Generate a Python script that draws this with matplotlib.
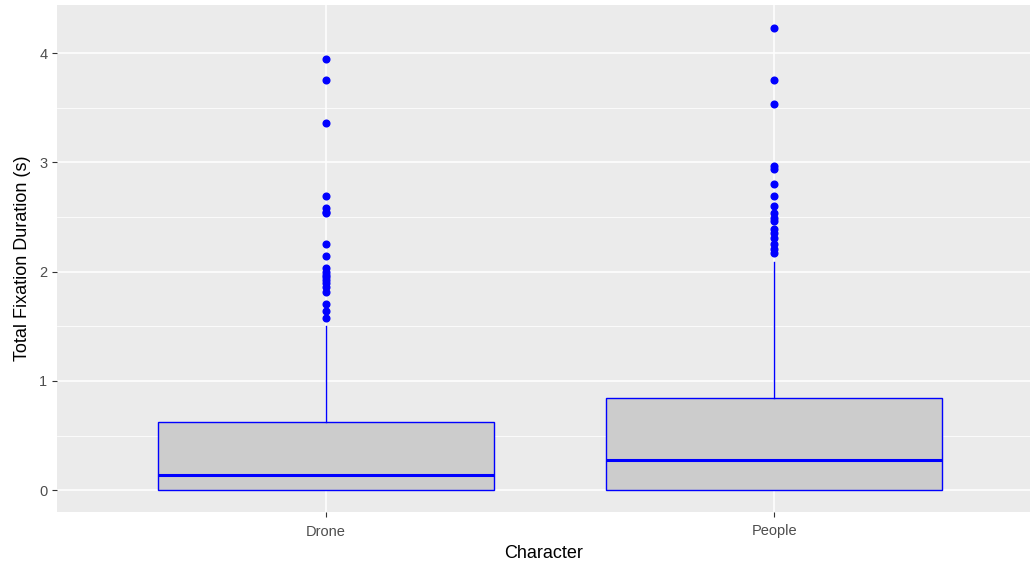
import matplotlib
matplotlib.use("Agg")
from matplotlib import pyplot as plt
from matplotlib.ticker import MultipleLocator

plt.rcParams['font.family'] = ['Liberation Sans', 'DejaVu Sans']

categories = ['Drone', 'People']

# box summaries (seconds)
q1 = [0.0, 0.0]
medians = [0.137, 0.275]
q3 = [0.62, 0.84]
whisker_lo = [0.0, 0.0]
whisker_hi = [1.50, 2.09]

drone_outliers = [3.945, 3.75, 3.36, 2.69, 2.58, 2.55, 2.54, 2.25, 2.14,
                  2.03, 2.0, 1.97, 1.95, 1.92, 1.90, 1.86, 1.81, 1.70, 1.64, 1.58]
people_outliers = [4.226, 3.75, 3.53, 2.97, 2.94, 2.80, 2.69, 2.60, 2.54,
                   2.49, 2.46, 2.39, 2.35, 2.31, 2.25, 2.21, 2.17]
outliers = [drone_outliers, people_outliers]

stats = []
for i, name in enumerate(categories):
	stats.append(dict(label=name, q1=q1[i], med=medians[i], q3=q3[i],
		whislo=whisker_lo[i], whishi=whisker_hi[i], fliers=outliers[i]))

fig = plt.figure(figsize=(10.30, 5.67), dpi=100)
ax = fig.add_axes([57/1030, 55/567, 1 - 57/1030, 507/567])
ax.set_facecolor('#EBEBEB')
for s in ax.spines.values():
	s.set_visible(False)

ax.bxp(stats, positions=[1, 2], widths=0.75, patch_artist=True, showcaps=False,
	boxprops=dict(facecolor='#CCCCCC', edgecolor='#0000FF', linewidth=1.0),
	medianprops=dict(color='#0000FF', linewidth=2.2),
	whiskerprops=dict(color='#0000FF', linewidth=1.0),
	flierprops=dict(marker='o', markerfacecolor='#0000FF', markeredgecolor='#0000FF',
		markersize=4.8, linestyle='none'),
	zorder=3)

ax.set_xlim(0.4, 2.571)
ax.set_ylim(-0.20, 4.44)
ax.yaxis.set_major_locator(MultipleLocator(1))
ax.yaxis.set_minor_locator(MultipleLocator(0.5))
ax.set_xticks([1, 2])
ax.set_xticklabels(categories)
ax.grid(which='major', color='white', linewidth=1.1, zorder=0)
ax.grid(which='minor', axis='y', color='white', linewidth=0.55, zorder=0)
ax.set_axisbelow(True)
ax.tick_params(which='major', length=3.5, color='#333333', labelcolor='#4D4D4D', labelsize=10.5, width=0.8)
ax.tick_params(axis='x', which='major', pad=5.5)
ax.tick_params(which='minor', length=0)

ax.set_xlabel('Character', fontsize=13, labelpad=5)
ax.set_ylabel('Total Fixation Duration (s)', fontsize=13, labelpad=6)

fig.savefig('out.png', dpi=100)
